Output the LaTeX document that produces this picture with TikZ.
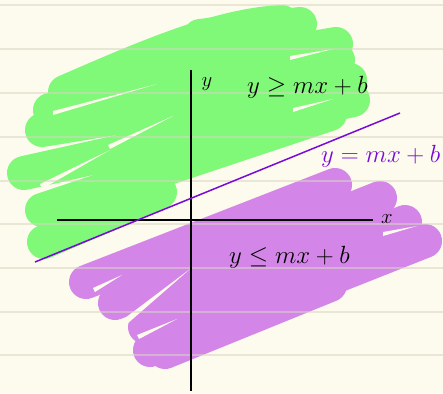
\documentclass[tikz,border=0pt]{standalone}
\definecolor{paper}{HTML}{FDFBEE}
\definecolor{ruled}{HTML}{D9D5C3}
\definecolor{gfill}{HTML}{80F878}
\definecolor{pfill}{HTML}{D486E8}
\definecolor{pline}{HTML}{7A0AD8}
\begin{document}
\begin{tikzpicture}[x=1pt,y=-1pt,
  rule/.style={draw=ruled,line width=1.2pt,opacity=0.55},
  gstroke/.style={draw=gfill,line width=34pt,line cap=round},
  pstroke/.style={draw=pfill,line width=34pt,line cap=round},
  streak/.style={fill=paper},
  axis/.style={draw=black,line width=1.6pt},
  mline/.style={draw=pline,line width=1.5pt},
  lbl/.style={inner sep=0pt,font=\fontsize{26}{30}\selectfont},
  plbl/.style={inner sep=0pt,text=pline,font=\fontsize{24}{28}\selectfont}]
\fill[paper] (0,0) rectangle (443,393);
\useasboundingbox (0,0) rectangle (443,393);
% green strokes
\draw[gstroke] (65,92) .. controls (150,55) and (220,25) .. (282,22);
\draw[gstroke] (90,86) -- (336,44);
\draw[gstroke] (200,36) -- (300,24);
\draw[gstroke] (50,110) -- (338,60);
\draw[gstroke] (42,130) -- (350,80);
\draw[gstroke] (24,173) -- (353,100);
\draw[gstroke] (42,210) -- (330,114);
\draw[gstroke] (44,242) -- (160,192);
% purple strokes
\draw[pstroke] (86,282) -- (335,185);
\draw[pstroke] (115,303) -- (380,198);
\draw[pstroke] (145,327) -- (405,222);
\draw[pstroke] (150,350) -- (425,241);
\draw[pstroke] (165,352) -- (330,285);
% streaks (tapered gaps in the colouring)
\fill[streak] (157,84) -- (53,111) -- (53,115) -- cycle;
\fill[streak] (173,116) -- (108,145) -- (110,149) -- cycle;
\fill[streak] (110,150) -- (40,184) -- (42,189) -- cycle;
\fill[streak] (333,49) -- (290,56) -- (290,60) -- cycle;
\fill[streak] (333,99) -- (293,108) -- (293,112) -- cycle;
\fill[streak] (190,269) -- (125,318) -- (127,324) -- cycle;
\fill[streak] (122,275) -- (93,288) -- (95,292) -- cycle;
\fill[streak] (177,319) -- (137,335) -- (139,339) -- cycle;
\fill[streak] (417,226) -- (383,232) -- (383,236) -- cycle;
% ruled lines
\foreach \yy in {5,49,93,137,181,224,268,312,355}
  \draw[rule] (0,\yy) -- (443,\yy);
% axes
\coordinate (xl) at (57,220);
\coordinate (xr) at (373,220);
\coordinate (yt) at (191,70);
\coordinate (yb) at (191,391);
\draw[axis] (xl) -- (xr);
\draw[axis] (yt) -- (yb);
% line y = mx + b
\coordinate (la) at (35,262);
\coordinate (lb) at (400,113);
\draw[mline] (la) -- (lb);
% labels
\node[lbl,anchor=base west] (ge) at (247,93) {$y \geq mx+b$};
\node[lbl,anchor=base west] (le) at (229,263) {$y \leq mx+b$};
\node[plbl,anchor=base west] (eq) at (321,162) {$y = mx+b$};
\node[inner sep=0pt,font=\fontsize{22}{26}\selectfont] (xlab) at (387,219) {$x$};
\node[inner sep=0pt,font=\fontsize{20}{24}\selectfont] (ylab) at (207,84) {$y$};
\end{tikzpicture}
\end{document}
